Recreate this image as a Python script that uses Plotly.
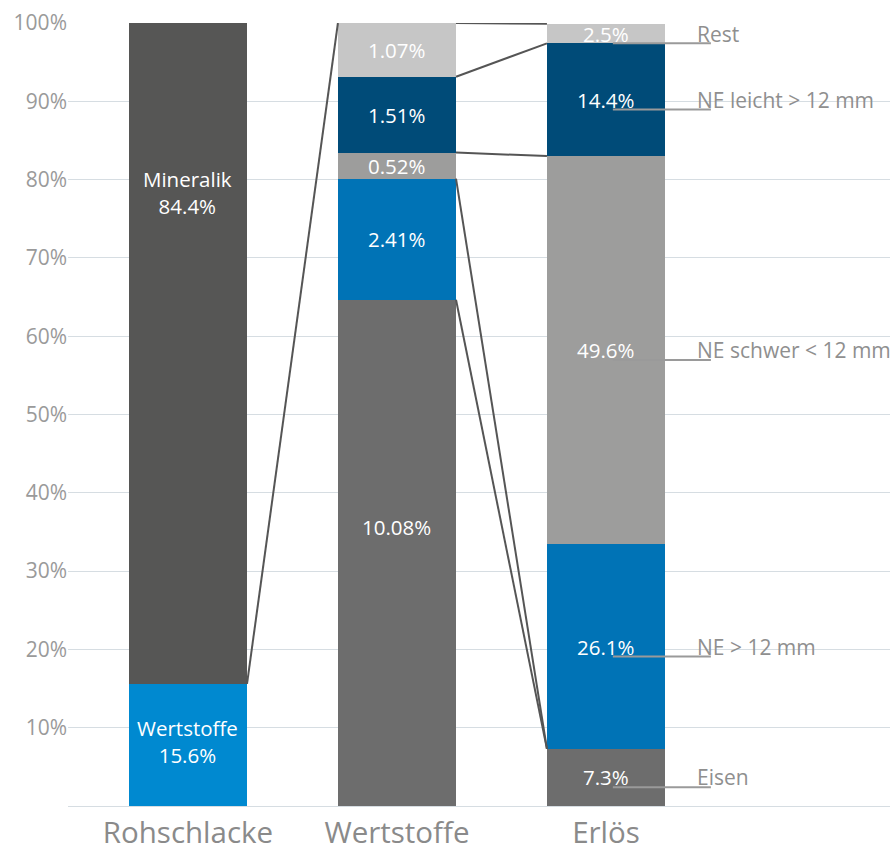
import plotly.graph_objects as go

# ---------------- data ----------------
categories = ["Rohschlacke", "Wertstoffe", "Erlös"]

# Rohschlacke (share of raw slag, %)
roh_names = ["Wertstoffe", "Mineralik"]
roh_values = [15.6, 84.4]

# Wertstoffe breakdown (share of raw slag, %), bottom -> top
wert_labels = ["10.08%", "2.41%", "0.52%", "1.51%", "1.07%"]
wert_values = [10.08, 2.41, 0.52, 1.51, 1.07]

# Erlös breakdown (%), bottom -> top
erl_names = ["Eisen", "NE > 12 mm", "NE schwer < 12 mm", "NE leicht > 12 mm", "Rest"]
erl_values = [7.3, 26.1, 49.6, 14.4, 2.5]

y_ticks = [10, 20, 30, 40, 50, 60, 70, 80, 90, 100]
y_ticktext = ["10%", "20%", "30%", "40%", "50%", "60%", "70%", "80%", "90%", "100%"]

# ---------------- styles ----------------
roh_colors = ["#0089d0", "#565655"]
seg_colors = ["#6d6d6d", "#0073b6", "#9d9d9c", "#004b78", "#c6c6c6"]
FONT = "Open Sans"
BAR_W = 0.565
GRID = "#d6dde2"

fig = go.Figure()

# Wertstoffe scaled to 100 %
wsum = sum(wert_values)
wert_scaled = [v / wsum * 100 for v in wert_values]

# bars
for i, (n, v) in enumerate(zip(roh_names, roh_values)):
    fig.add_trace(go.Bar(x=[categories[0]], y=[v], marker_color=roh_colors[i],
                         width=BAR_W, marker_line_width=0, showlegend=False, hoverinfo="skip"))
for i, v in enumerate(wert_scaled):
    fig.add_trace(go.Bar(x=[categories[1]], y=[v], marker_color=seg_colors[i],
                         width=BAR_W, marker_line_width=0, showlegend=False, hoverinfo="skip"))
for i, v in enumerate(erl_values):
    fig.add_trace(go.Bar(x=[categories[2]], y=[v], marker_color=seg_colors[i],
                         width=BAR_W, marker_line_width=0, showlegend=False, hoverinfo="skip"))


def cum(vals):
    out, s = [], 0
    for v in vals:
        out.append((s, s + v))
        s += v
    return out


roh_c = cum(roh_values)
wert_c = cum(wert_scaled)
erl_c = cum(erl_values)

annots = []
white = dict(family=FONT, size=20.5, color="white")
# Rohschlacke labels
annots.append(dict(x=0, y=roh_c[0][1] / 2 + 0.5, text="Wertstoffe<br>" + f"{roh_values[0]}%",
                   showarrow=False, font=white, xref="x", yref="y"))
annots.append(dict(x=0, y=78.3, text="Mineralik<br>" + f"{roh_values[1]}%",
                   showarrow=False, font=white, xref="x", yref="y"))
# Wertstoffe labels
for i, (lo, hi) in enumerate(wert_c):
    y = (lo + hi) / 2
    if i == 0:
        y = 35.6
    annots.append(dict(x=1, y=y, text=wert_labels[i], showarrow=False, font=white,
                       xref="x", yref="y"))
# Erlös labels + right side names
for i, (lo, hi) in enumerate(erl_c):
    y = (lo + hi) / 2
    annots.append(dict(x=2, y=y, text=f"{erl_values[i]}%", showarrow=False, font=white,
                       xref="x", yref="y"))
    annots.append(dict(x=2.425, y=y, text=erl_names[i], showarrow=False, xanchor="left",
                       font=dict(family=FONT, size=21, color="#8f8f8f"), xref="x", yref="y"))

shapes = []
# underline leaders
for i, (lo, hi) in enumerate(erl_c):
    y = (lo + hi) / 2 - 1.25
    shapes.append(dict(type="line", xref="x", yref="y", x0=2.033, x1=2.502, y0=y, y1=y,
                       line=dict(color="#9a9a9a", width=2), layer="above"))

# connector lines
hw = BAR_W / 2
LC = dict(color="#555555", width=2)
shapes.append(dict(type="line", xref="x", yref="y", x0=0 + hw, y0=roh_c[0][1],
                   x1=1 - hw, y1=100, line=LC))
pairs = [(wert_c[4][1], erl_c[4][1]), (wert_c[3][1], erl_c[3][1]), (wert_c[2][1], erl_c[2][1]),
         (wert_c[1][1], erl_c[1][0]), (wert_c[0][1], erl_c[0][1])]
for y0, y1 in pairs:
    shapes.append(dict(type="line", xref="x", yref="y", x0=1 + hw, y0=y0, x1=2 - hw, y1=y1,
                       line=LC))

fig.update_layout(
    barmode="stack",
    width=890, height=850,
    margin=dict(l=68, r=0, t=23, b=44),
    plot_bgcolor="white", paper_bgcolor="white",
    annotations=annots, shapes=shapes,
    xaxis=dict(range=[-0.574, 3.359], showgrid=False, zeroline=False, showline=False,
               tickfont=dict(family=FONT, size=29.5, color="#8a8a8a"), ticks="",
               ticklabelstandoff=6, automargin=False),
    yaxis=dict(range=[0, 100], tickvals=y_ticks, ticktext=y_ticktext, showgrid=True,
               gridcolor=GRID, gridwidth=1, zeroline=True, zerolinecolor=GRID,
               zerolinewidth=1, showline=False, ticks="",
               tickfont=dict(family=FONT, size=21, color="#9a9a9a"), automargin=False),
    font=dict(family=FONT),
)

fig.write_html("out.html")
